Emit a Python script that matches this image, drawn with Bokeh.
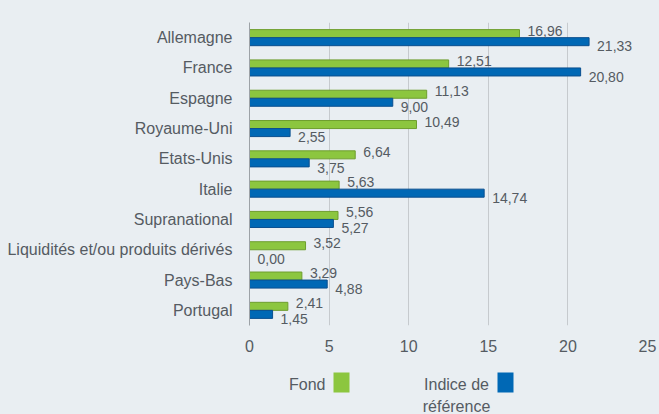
from bokeh.plotting import figure
from bokeh.layouts import column
from bokeh.models import FactorRange, Range1d, ColumnDataSource, FixedTicker
from bokeh.transform import dodge
from bokeh.core.properties import value
from bokeh.embed import file_html
from bokeh.resources import INLINE

categories = ["Allemagne", "France", "Espagne", "Royaume-Uni", "Etats-Unis", "Italie",
              "Supranational", "Liquidités et/ou produits dérivés", "Pays-Bas", "Portugal"]
fond = [16.96, 12.51, 11.13, 10.49, 6.64, 5.63, 5.56, 3.52, 3.29, 2.41]
indice = [21.33, 20.80, 9.00, 2.55, 3.75, 14.74, 5.27, 0.00, 4.88, 1.45]
series_names = ["Fond", "Indice de\nréférence"]
x_ticks = [0, 5, 10, 15, 20, 25]

BG = "#E9EEF2"
GREEN = "#8CC63F"
GREEN_LINE = "#6E9E2E"
BLUE = "#0068B5"
BLUE_LINE = "#0A4F8F"
TXT = "#555B62"
FONT = "Liberation Sans"

def fmt(v):
    return f"{v:.2f}".replace(".", ",")

src = ColumnDataSource(dict(
    cat=categories, fond=fond, indice=indice,
    fond_lbl=[fmt(v) for v in fond], indice_lbl=[fmt(v) for v in indice],
))

MAIN_H = 355
p = figure(width=659, height=MAIN_H, output_backend="svg", toolbar_location=None,
           y_range=FactorRange(*categories[::-1], range_padding=0),
           x_range=Range1d(0, 25),
           background_fill_color=BG, border_fill_color=BG,
           min_border_top=22, min_border_bottom=30, min_border_left=249, min_border_right=12)
p.outline_line_color = None

bh = 0.265
p.hbar(y=dodge("cat", bh / 2, range=p.y_range), right="fond", left=0, height=bh, source=src,
       fill_color=GREEN, line_color=GREEN_LINE, line_width=1)
p.hbar(y=dodge("cat", -bh / 2, range=p.y_range), right="indice", left=0, height=bh, source=src,
       fill_color=BLUE, line_color=BLUE_LINE, line_width=1)

p.text(x="fond", y=dodge("cat", 0.23, range=p.y_range), text="fond_lbl", source=src,
       x_offset=8, text_font=value(FONT), text_font_size="14px", text_color=TXT,
       text_baseline="middle", text_align="left")
p.text(x="indice", y=dodge("cat", -0.29, range=p.y_range), text="indice_lbl", source=src,
       x_offset=8, text_font=value(FONT), text_font_size="14px", text_color=TXT,
       text_baseline="middle", text_align="left")

p.xaxis.ticker = FixedTicker(ticks=x_ticks)
p.xaxis.axis_line_color = None
p.xaxis.major_tick_line_color = None
p.xaxis.minor_tick_line_color = None
p.xaxis.major_label_standoff = 8
p.xaxis.major_label_text_font = FONT
p.xaxis.major_label_text_font_size = "16px"
p.xaxis.major_label_text_color = TXT

p.yaxis.axis_line_color = "#9DA2A7"
p.yaxis.major_tick_line_color = None
p.yaxis.minor_tick_line_color = None
p.yaxis.major_label_standoff = 11
p.yaxis.major_label_text_font = FONT
p.yaxis.major_label_text_font_size = "16px"
p.yaxis.major_label_text_color = TXT

p.ygrid.grid_line_color = None
p.xgrid.ticker = FixedTicker(ticks=x_ticks)
p.xgrid.grid_line_color = "#C6CACE"

# legend panel (text left of swatch, as in the original); data units = canvas pixels
LEG_H = 414 - MAIN_H
lg = figure(width=659, height=LEG_H, output_backend="svg", toolbar_location=None,
            x_range=Range1d(249, 647), y_range=Range1d(LEG_H, 0),
            background_fill_color=None, border_fill_color=None,
            min_border_left=249, min_border_right=12, min_border_top=0, min_border_bottom=0,
            x_axis_type=None, y_axis_type=None)
lg.outline_line_color = None
lg.styles = {"background-color": BG}

lg.rect(x=[341, 505], y=[27, 27], width=16, height=20,
        fill_color=[GREEN, BLUE], line_color=None)
lg.text(x=[325], y=[29], text=[series_names[0]], text_font=value(FONT), text_font_size="16px",
        text_color=TXT, text_align="right", text_baseline="middle")
lines = series_names[1].split("\n")
lg.text(x=[456, 456], y=[29, 51], text=lines, text_font=value(FONT), text_font_size="16px",
        text_color=TXT, text_align="center", text_baseline="middle")

layout = column(p, lg, spacing=0, styles={"background-color": BG})
open("out.html", "w").write(file_html(layout, INLINE))
